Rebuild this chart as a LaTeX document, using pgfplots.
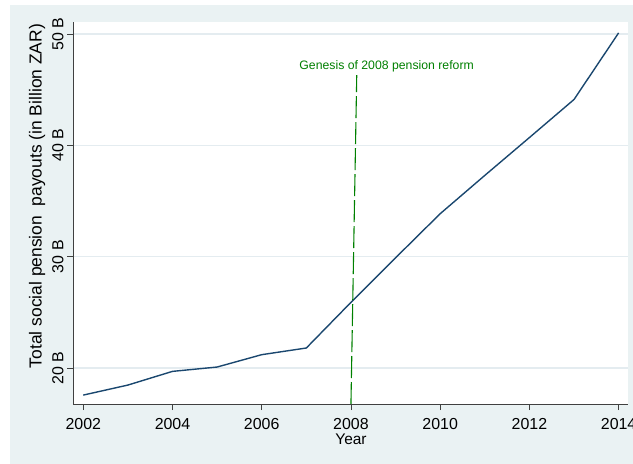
\documentclass[border=0pt]{standalone}
\usepackage{pgfplots}
\pgfplotsset{compat=1.18}
\usepackage{fontspec}
\setmainfont{Liberation Sans}
\definecolor{bgcol}{RGB}{234,242,243}
\definecolor{gridcol}{RGB}{228,236,240}
\definecolor{navy}{RGB}{26,71,111}
\definecolor{stgreen}{RGB}{0,128,0}
\begin{document}
\begin{tikzpicture}
\useasboundingbox (0,0) rectangle (633bp,464bp);
\clip (0,0) rectangle (633bp,464bp);
\fill[white] (0,0) rectangle (633bp,464bp);
\fill[bgcol] (10bp,0) rectangle (633bp,459bp);
\begin{axis}[
  at={(73bp,60bp)}, anchor=south west,
  scale only axis, width=555bp, height=382bp,
  xmin=2001.77, xmax=2014.21, ymin=16.77, ymax=51.08,
  axis x line*=bottom, axis y line*=left,
  axis line style={-, black!75, line width=0.9pt},
  axis background/.style={fill=white},
  xtick={2002,2004,...,2014},
  ytick={20,30,40,50},
  yticklabels={20 B,30 B,40 B,50 B},
  tick align=outside, major tick length=6bp,
  tick style={black!75, line width=0.8pt},
  ymajorgrids, grid style={gridcol, line width=1.3pt},
  /pgf/number format/1000 sep={},
  /pgf/number format/assume math mode=true,
  ticklabel style={font=\fontsize{16}{16}\selectfont},
  xticklabel style={yshift=-5bp},
  yticklabel style={rotate=90, anchor=south},
]
\addplot[navy, line width=1.4pt, mark=none] coordinates {
(2002,17.57) (2003,18.47) (2004,19.70) (2005,20.09) (2006,21.20)
(2007,21.80) (2008,25.90) (2009,29.90) (2010,33.86) (2011,37.30)
(2012,40.70) (2013,44.12) (2014,50.10)
};
\addplot[stgreen, line width=1.1pt, dash pattern=on 22bp off 4bp, mark=none] coordinates {
(2008,16.77) (2008.13,46.3)
};
\node[stgreen, font=\fontsize{12.3}{12.3}\selectfont] at (axis cs:2008.8,47.06) {Genesis of 2008 pension reform};
\end{axis}
\node[font=\fontsize{15.5}{15.5}\selectfont] at (351bp,25bp) {Year};
\node[rotate=90, font=\fontsize{17.5}{17.5}\selectfont] at (37bp,268bp) {Total social pension\ \ payouts (in Billion ZAR)};
\end{tikzpicture}
\end{document}
